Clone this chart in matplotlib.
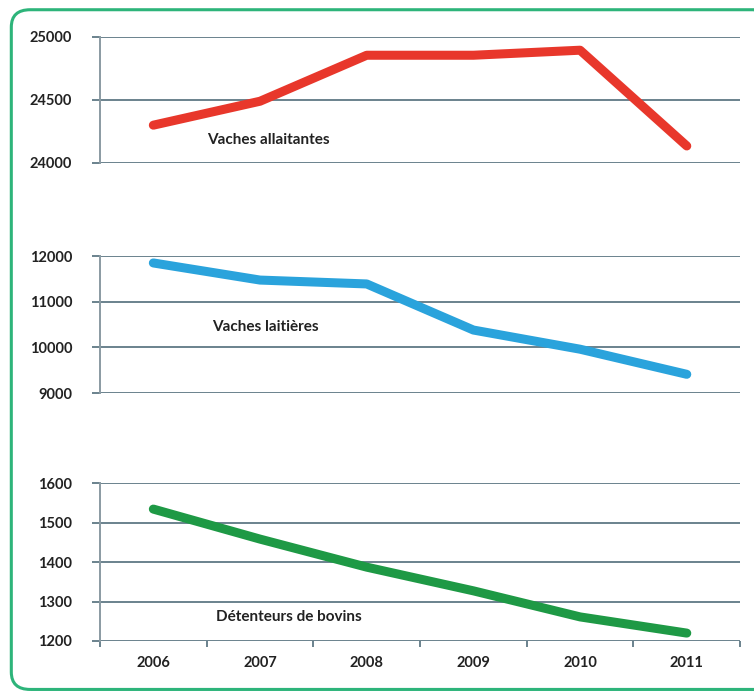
import matplotlib.pyplot as plt
from matplotlib.patches import FancyBboxPatch

years = ["2006", "2007", "2008", "2009", "2010", "2011"]
allaitantes = [24300, 24490, 24855, 24855, 24895, 24135]
laitieres = [11850, 11475, 11390, 10380, 9960, 9410]
detenteurs = [1534, 1458, 1387, 1327, 1261, 1220]

fig = plt.figure(figsize=(7.54, 6.95), dpi=100)
plt.rcParams['font.family'] = ['Lato', 'DejaVu Sans']

grid_col = "#6a828d"
panels = [
    ([0.1326, 0.7655, 0.849, 0.1813], allaitantes, "#e8372b", [24000, 24500, 25000],
     "Vaches allaitantes", (1.08, 24180)),
    ([0.1326, 0.4345, 0.849, 0.197], laitieres, "#2aa3dc", [9000, 10000, 11000, 12000],
     "Vaches laitières", (1.05, 10450)),
    ([0.1326, 0.0777, 0.849, 0.2273], detenteurs, "#1e9945", [1200, 1300, 1400, 1500, 1600],
     "Détenteurs de bovins", (1.27, 1260)),
]

x = list(range(len(years)))
for i, (pos, vals, col, yt, label, lpos) in enumerate(panels):
    ax = fig.add_axes(pos)
    ax.plot(x, vals, color=col, lw=6.5, solid_capstyle="round", solid_joinstyle="round", zorder=3)
    ax.set_xlim(-0.5, 5.5)
    ax.set_ylim(yt[0], yt[-1])
    ax.set_yticks(yt)
    ax.set_yticklabels([str(v) for v in yt], fontsize=10.5, fontweight="bold", color="#222222")
    for v in yt:
        ax.axhline(v, color=grid_col, lw=1.4, zorder=1)
    for s in ["top", "right", "bottom"]:
        ax.spines[s].set_visible(False)
    ax.spines["left"].set_color("#8a9aa2")
    ax.spines["left"].set_linewidth(1.4)
    ax.tick_params(axis="y", length=6, color=grid_col, width=1.4, pad=14)
    ax.text(lpos[0], lpos[1], label, fontsize=11, fontweight="bold", color="#222222", ha="center", va="center")
    if i == 2:
        ax.set_xticks([k - 0.5 for k in range(7)], minor=False)
        ax.set_xticklabels([])
        ax.set_xticks(x, minor=True)
        ax.set_xticklabels(years, minor=True, fontsize=10.5, fontweight="bold", color="#222222")
        ax.tick_params(axis="x", which="major", length=4, color=grid_col, width=1.4)
        ax.tick_params(axis="x", which="minor", length=0, pad=11)
    else:
        ax.set_xticks([])

border = FancyBboxPatch((0.015, 0.008), 1.01, 0.978, boxstyle="round,pad=0,rounding_size=0.025",
                        transform=fig.transFigure, fill=False, edgecolor="#2db47a", lw=2.2)
fig.patches.append(border)

fig.savefig("out.png", dpi=100)
